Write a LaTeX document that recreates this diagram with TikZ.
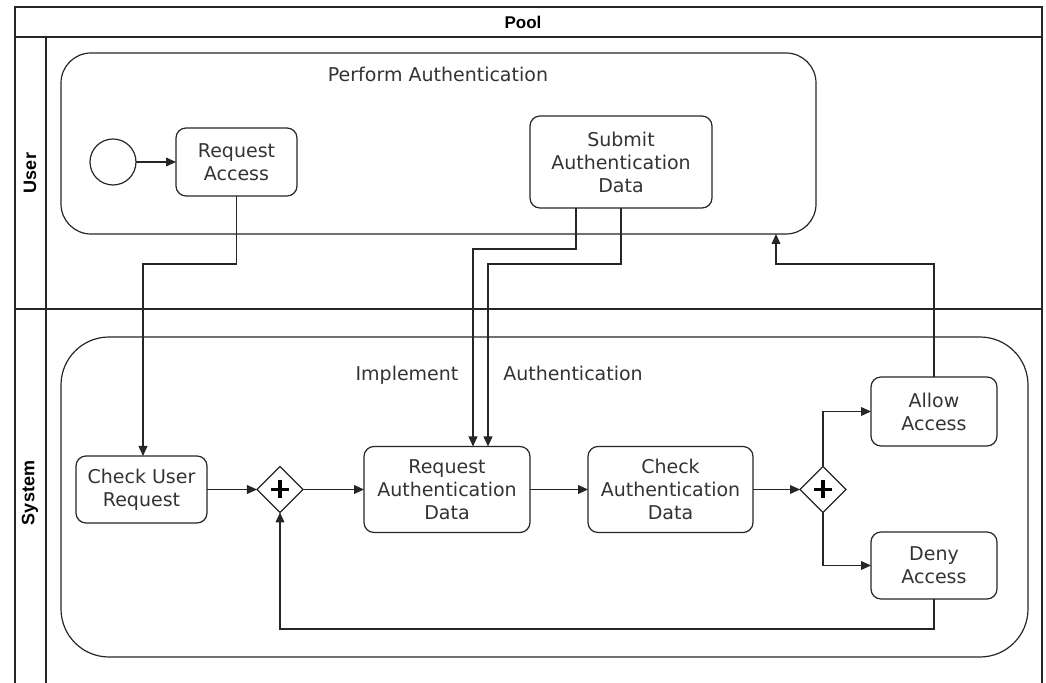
\documentclass[tikz,border=0pt]{standalone}
\usepackage{fontspec}
\setmainfont{DejaVu Sans}
\newfontfamily\lanefont{Liberation Sans}
\usetikzlibrary{shapes.geometric,arrows.meta}
\begin{document}
\begin{tikzpicture}[x=0.5pt,y=-0.5pt,line width=0.6pt,
  every node/.style={inner sep=0pt,outer sep=0pt},
  task/.style={draw=black!85,rounded corners=5pt,align=center,
    font=\fontsize{9.5}{11.5}\selectfont,text=black!80},
  grp/.style={draw=black!85,rectangle},
  gtitle/.style={font=\fontsize{9.5}{11.5}\selectfont,text=black!80,anchor=base},
  gate/.style={draw=black!85,diamond,aspect=1,minimum width=23pt,minimum height=23pt},
  plusmark/.style={line width=1.6pt,black},
  lanelabel/.style={font=\lanefont\bfseries\fontsize{9}{10}\selectfont,rotate=90},
  frame/.style={draw=black!85,line width=0.8pt},
  flow/.style={draw=black!85,-{Triangle[length=5pt,width=4.4pt]}},
  lineonly/.style={draw=black!85}]
\useasboundingbox (0,0) rectangle (1046,683);
% pool frame
\draw[frame] (15,683) -- (15,7) -- (1042,7) -- (1042,683);
\draw[frame] (15,37) -- (1042,37);
\draw[frame] (15,309) -- (1042,309);
\draw[frame] (46,37) -- (46,683);
\node[font=\lanefont\bfseries\fontsize{8.5}{10}\selectfont] (pool) at (523,22) {Pool};
\node[lanelabel] (userlab) at (30,173) {User};
\node[lanelabel] (syslab) at (30,493) {System};
% groups
\node[grp,rounded corners=15pt,minimum width=377.5pt,minimum height=90.5pt] (ug) at (438.5,143.5) {};
\node[grp,rounded corners=24pt,minimum width=483.5pt,minimum height=160pt] (sg) at (544.5,497) {};
\node[gtitle] (ugt) at (438,82) {Perform Authentication};
\node[gtitle] (sgt1) at (407,381) {Implement};
\node[gtitle] (sgt2) at (573,381) {Authentication};
% user lane
\node[draw=black!85,circle,minimum size=23pt] (start) at (113,162) {};
\node[task,minimum width=60.5pt,minimum height=34pt] (ra) at (236.5,162) {Request\\Access};
\node[task,minimum width=91pt,minimum height=46pt] (sad) at (621,162) {Submit\\Authentication\\Data};
% system lane
\node[task,minimum width=65.5pt,minimum height=33.5pt] (cur) at (141.5,489.5) {Check User\\Request};
\node[gate] (g1) at (280,489.5) {};
\node[task,minimum width=83pt,minimum height=43pt] (rad) at (447,489.5) {Request\\Authentication\\Data};
\node[task,minimum width=82.5pt,minimum height=43pt] (cad) at (670.5,489.5) {Check\\Authentication\\Data};
\node[gate] (g2) at (823,489.5) {};
\node[task,minimum width=63pt,minimum height=34.5pt] (allow) at (934,411.5) {Allow\\Access};
\node[task,minimum width=63pt,minimum height=33.5pt] (deny) at (934,565.5) {Deny\\Access};
% plus marks
\draw[plusmark] (g1) +(-9,0) -- +(9,0) (g1) +(0,-9) -- +(0,9);
\draw[plusmark] (g2) +(-9,0) -- +(9,0) (g2) +(0,-9) -- +(0,9);
% connectors
\draw[flow] (start) -- (ra);
\draw[flow] (ra.south) -- ++(0,68) -| ([xshift=0.75pt]cur.north);
\draw[flow] ([xshift=-22.5pt]sad.south) -- ++(0,41) -| ([xshift=13pt]rad.north);
\draw[flow] (sad.south) -- ++(0,56) -| ([xshift=20.5pt]rad.north);
\draw[flow] (cur) -- (g1);
\draw[flow] (g1) -- (rad);
\draw[flow] (rad) -- (cad);
\draw[flow] (cad) -- (g2);
\draw[flow] (g2.north) |- (allow.west);
\draw[flow] (g2.south) |- (deny.west);
\draw[flow] (deny.south) -- ++(0,30) -| (g1.south);
\draw[flow] (allow.north) -- ++(0,-113) -| ([xshift=168.75pt]ug.south);
\end{tikzpicture}
\end{document}
